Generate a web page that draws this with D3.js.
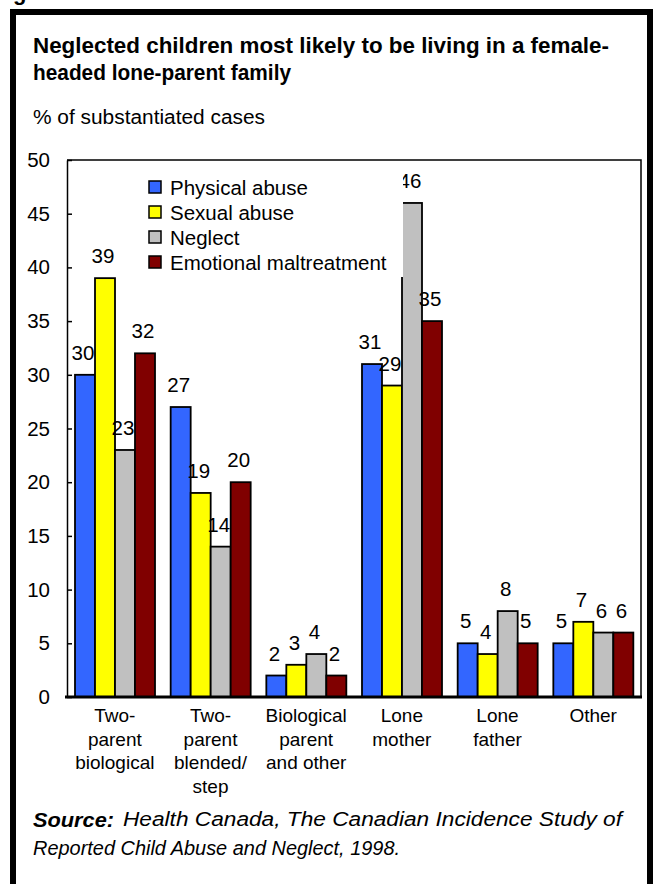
<!DOCTYPE html>
<html>
<head>
<meta charset="utf-8">
<script src="https://cdn.jsdelivr.net/npm/d3@7"></script>
<style>
  html, body { margin: 0; padding: 0; background: #fff; }
  svg { display: block; }
  text { font-family: "Liberation Sans", Arial, sans-serif; fill: #000; }
</style>
</head>
<body>
<svg id="chart" width="654" height="884"></svg>
<script>
// ---- data ----
const categories = ["Two-parent biological", "Two-parent blended/step", "Biological parent and other", "Lone mother", "Lone father", "Other"];
const categoryLines = [["Two-", "parent", "biological"], ["Two-", "parent", "blended/", "step"], ["Biological", "parent", "and other"], ["Lone", "mother"], ["Lone", "father"], ["Other"]];
const seriesNames = ["Physical abuse", "Sexual abuse", "Neglect", "Emotional maltreatment"];
const physicalAbuse = [30, 27, 2, 31, 5, 5];
const sexualAbuse = [39, 19, 3, 29, 4, 7];
const neglect = [23, 14, 4, 46, 8, 6];
const emotionalMaltreatment = [32, 20, 2, 35, 5, 6];
const yTicks = [0, 5, 10, 15, 20, 25, 30, 35, 40, 45, 50];
const seriesColors = ["#3366FF", "#FFFF00", "#C0C0C0", "#800000"];

const seriesValues = [physicalAbuse, sexualAbuse, neglect, emotionalMaltreatment];
const rows = [];
categories.forEach((c, i) => seriesNames.forEach((s, j) => rows.push({ cat: c, series: s, value: seriesValues[j][i], color: seriesColors[j] })));

const svg = d3.select("#chart");

// outer frame
svg.append("rect").attr("x", 13).attr("y", 12).attr("width", 637).attr("height", 900)
  .attr("fill", "#fff").attr("stroke", "#000").attr("stroke-width", 6);

// partial figure heading peeking at top
svg.append("text").attr("x", 13).attr("y", 0).attr("font-size", 22).attr("font-weight", "bold").text("g");

// title
svg.append("text").attr("x", 33).attr("y", 53).attr("font-size", 22.5).attr("font-weight", "bold")
  .attr("textLength", 576).attr("lengthAdjust", "spacingAndGlyphs")
  .text("Neglected children most likely to be living in a female-");
svg.append("text").attr("x", 33).attr("y", 80).attr("font-size", 22.5).attr("font-weight", "bold")
  .attr("textLength", 258).attr("lengthAdjust", "spacingAndGlyphs")
  .text("headed lone-parent family");
svg.append("text").attr("x", 33).attr("y", 124).attr("font-size", 19.5)
  .attr("textLength", 232).attr("lengthAdjust", "spacingAndGlyphs")
  .text("% of substantiated cases");

// scales
const plotLeft = 67, plotRight = 641, plotTop = 160, plotBottom = 697;
const x0 = d3.scaleBand().domain(categories).range([plotLeft, plotRight]).paddingInner(0).paddingOuter(0);
const x1 = d3.scaleBand().domain(seriesNames).range([8, 88]);
const y = d3.scaleLinear().domain([0, 50]).range([plotBottom, plotTop]);

// plot frame (top, right)
svg.append("path").attr("d", `M${plotLeft},${plotTop}H${plotRight}V${plotBottom}`).attr("fill", "none")
  .attr("stroke", "#000").attr("stroke-width", 1.5);

// y axis
const yAxis = d3.axisLeft(y).tickValues(yTicks).tickSizeInner(-5).tickSizeOuter(0).tickPadding(17);
const gy = svg.append("g").attr("transform", `translate(${plotLeft},0)`).call(yAxis);
gy.select(".domain").attr("stroke", "#000").attr("stroke-width", 1.5);
gy.selectAll(".tick line").attr("stroke", "#000").attr("stroke-width", 1.5);
gy.selectAll(".tick text").attr("font-size", 20.5).attr("font-family", "Liberation Sans, Arial, sans-serif").attr("fill", "#000");

// bars
const groups = svg.append("g").selectAll("g").data(categories).join("g")
  .attr("transform", d => `translate(${x0(d)},0)`);
groups.selectAll("rect").data(c => rows.filter(r => r.cat === c)).join("rect")
  .attr("x", d => x1(d.series)).attr("width", x1.bandwidth())
  .attr("y", d => y(d.value)).attr("height", d => y(0) - y(d.value))
  .attr("fill", d => d.color).attr("stroke", "#000").attr("stroke-width", 1.8);

// value labels
groups.selectAll("text.val").data(c => rows.filter(r => r.cat === c)).join("text")
  .attr("class", "val")
  .attr("x", d => x1(d.series) + x1.bandwidth() / 2 - 2)
  .attr("y", d => y(d.value) - 15)
  .attr("text-anchor", "middle").attr("font-size", 20.5).text(d => d.value);

// legend (white box overlays bars)
const legend = svg.append("g");
legend.append("rect").attr("x", 140).attr("y", 166).attr("width", 263).attr("height", 111).attr("fill", "#fff");
seriesNames.forEach((s, j) => {
  const ly = 188 + j * 25;
  legend.append("rect").attr("x", 149).attr("y", ly - 7).attr("width", 12).attr("height", 12)
    .attr("fill", seriesColors[j]).attr("stroke", "#000").attr("stroke-width", 1.5);
  legend.append("text").attr("x", 170).attr("y", ly + 7).attr("font-size", 20.5).text(s);
});

// baseline
svg.append("line").attr("x1", plotLeft - 2).attr("x2", plotRight + 1).attr("y1", plotBottom).attr("y2", plotBottom)
  .attr("stroke", "#000").attr("stroke-width", 3);

// x labels
categories.forEach((c, i) => {
  const cx = x0(c) + x0.bandwidth() / 2;
  const t = svg.append("text").attr("x", cx).attr("y", 722)
    .attr("text-anchor", "middle").attr("font-size", 19);
  categoryLines[i].forEach((ln, k) => t.append("tspan").attr("x", cx)
    .attr("dy", k === 0 ? 0 : 23.7).text(ln));
});

// source
svg.append("text").attr("x", 33).attr("y", 827).attr("font-size", 20).attr("font-style", "italic")
  .attr("font-weight", "bold").attr("textLength", 81).attr("lengthAdjust", "spacingAndGlyphs").text("Source:");
svg.append("text").attr("x", 123).attr("y", 826).attr("font-size", 20).attr("font-style", "italic")
  .attr("textLength", 499).attr("lengthAdjust", "spacingAndGlyphs")
  .text("Health Canada, The Canadian Incidence Study of");
svg.append("text").attr("x", 33).attr("y", 855).attr("font-size", 20).attr("font-style", "italic")
  .attr("textLength", 367).attr("lengthAdjust", "spacingAndGlyphs")
  .text("Reported Child Abuse and Neglect, 1998.");
</script>
</body>
</html>
